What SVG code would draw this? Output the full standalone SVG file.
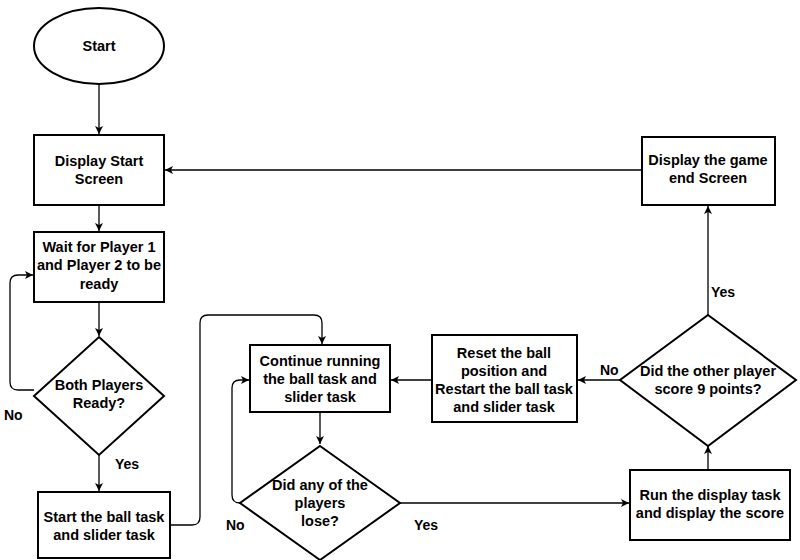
<svg xmlns="http://www.w3.org/2000/svg" width="800" height="560" viewBox="0 0 800 560">
<defs>
<marker id="ah" markerWidth="10" markerHeight="10" refX="9" refY="5" orient="auto" markerUnits="userSpaceOnUse"><path d="M1,1 L9,5 L1,9 L3,5 Z" fill="#000"/></marker>
<style>
.s{fill:#fff;stroke:#000;stroke-width:2}
.t{font-family:"Liberation Sans",Arial,sans-serif;font-size:14.5px;font-weight:bold;text-anchor:middle;fill:#000}
.l{font-family:"Liberation Sans",Arial,sans-serif;font-size:14px;font-weight:bold;fill:#000}
.c{fill:none;stroke:#000;stroke-width:1.3;marker-end:url(#ah)}
</style>
</defs>
<rect width="800" height="560" fill="#fff"/>
<g id="connectors">
<path class="c" d="M99,84 V134"/>
<path class="c" d="M99,205 V231"/>
<path class="c" d="M99,302 V336"/>
<path class="c" d="M99,455 V491"/>
<path class="c" d="M34,390 H18 Q10,390 10,382 V283 Q10,275 18,275 H33"/>
<path class="c" d="M170,525 H192 Q200,525 200,517 V323 Q200,315 208,315 H314 Q322,315 322,323 V344"/>
<path class="c" d="M320,412 V444"/>
<path class="c" d="M240,503 H240 Q232,503 232,495 V388 Q232,380 240,380 H249"/>
<path class="c" d="M400,503 H629"/>
<path class="c" d="M708,470 V446"/>
<path class="c" d="M620,380 H578"/>
<path class="c" d="M432,380 H391"/>
<path class="c" d="M708,315 V206"/>
<path class="c" d="M642,170 H165"/>
<text class="l" x="115" y="469">Yes</text>
<text class="l" x="4" y="420">No</text>
<text class="l" x="226" y="530">No</text>
<text class="l" x="414" y="530">Yes</text>
<text class="l" x="600" y="375">No</text>
<text class="l" x="711" y="297">Yes</text>
</g>
<g id="start"><ellipse class="s" cx="99" cy="46" rx="65" ry="38"/><text class="t" x="99" y="51">Start</text></g>
<g id="display-start"><rect class="s" x="34" y="135" width="130" height="70"/><text class="t" x="99" y="166">Display Start</text><text class="t" x="99" y="184">Screen</text></g>
<g id="wait"><rect class="s" x="34" y="232" width="130" height="70"/><text class="t" x="99" y="252">Wait for Player 1</text><text class="t" x="99" y="270">and Player 2 to be</text><text class="t" x="99" y="289">ready</text></g>
<g id="both-ready"><polygon class="s" points="99,337 164,396 99,455 34,396"/><text class="t" x="99" y="390">Both Players</text><text class="t" x="99" y="408">Ready?</text></g>
<g id="start-ball"><rect class="s" x="38" y="492" width="132" height="66"/><text class="t" x="104" y="522">Start the ball task</text><text class="t" x="104" y="540">and slider task</text></g>
<g id="continue"><rect class="s" x="250" y="345" width="140" height="67"/><text class="t" x="320" y="366">Continue running</text><text class="t" x="320" y="384">the ball task and</text><text class="t" x="320" y="402">slider task</text></g>
<g id="lose"><polygon class="s" points="320,446 400,503 320,560 240,503"/><text class="t" x="320" y="490">Did any of the</text><text class="t" x="320" y="508">players</text><text class="t" x="320" y="526">lose?</text></g>
<g id="run-display"><rect class="s" x="630" y="470" width="160" height="70"/><text class="t" x="710" y="500">Run the display task</text><text class="t" x="710" y="518">and display the score</text></g>
<g id="other-player"><polygon class="s" points="708,315 796,380 708,446 620,380"/><text class="t" x="708" y="376">Did the other  player</text><text class="t" x="708" y="394">score 9 points?</text></g>
<g id="reset"><rect class="s" x="432" y="335" width="145" height="87"/><text class="t" x="504" y="358">Reset the ball</text><text class="t" x="504" y="376">position and</text><text class="t" x="504" y="394">Restart the ball task</text><text class="t" x="504" y="412">and slider task</text></g>
<g id="game-end"><rect class="s" x="642" y="137" width="133" height="68"/><text class="t" x="708" y="165">Display the game</text><text class="t" x="708" y="183">end Screen</text></g>
</svg>
